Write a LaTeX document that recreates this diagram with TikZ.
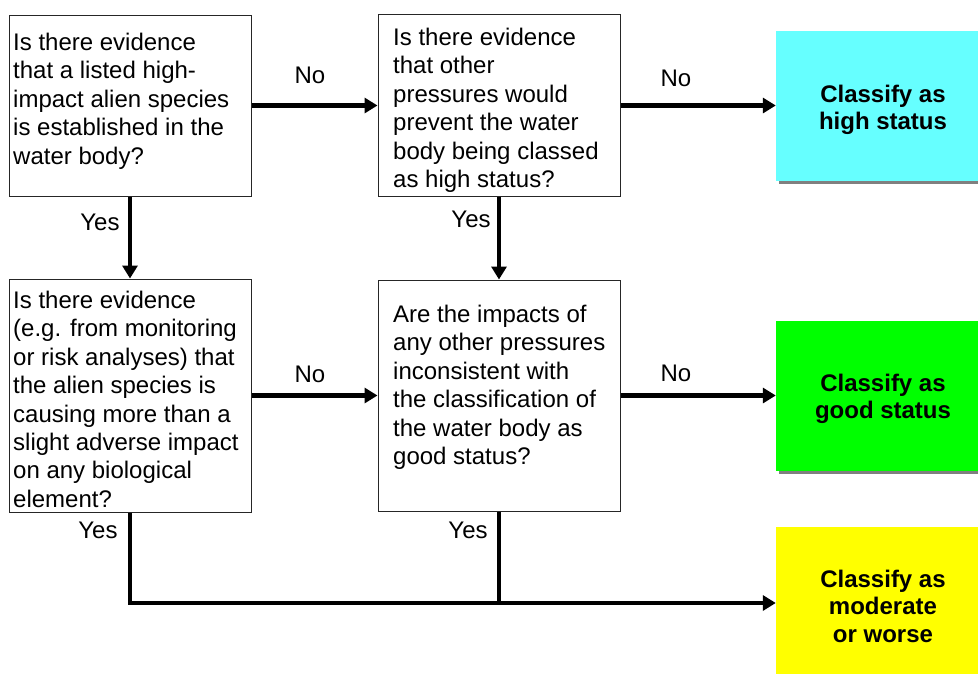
\documentclass[tikz,border=0pt]{standalone}
\usepackage{fontspec}
\setmainfont{Liberation Sans}
\usetikzlibrary{arrows.meta,shadows}
\begin{document}
\begin{tikzpicture}[x=1pt,y=-1pt,
  qbox/.style={draw=black!85,line width=1pt,rectangle,minimum width=242pt,inner sep=0pt},
  qtext/.style={anchor=north west,inner sep=0pt,align=left,font=\fontsize{24}{28.4}\selectfont},
  cbox/.style={rectangle,minimum width=214pt,minimum height=150pt,inner sep=0pt},
  ctext/.style={inner sep=0pt,align=center,font=\fontsize{24}{27.5}\selectfont\bfseries},
  shad/.style={drop shadow={shadow xshift=3pt,shadow yshift=-3pt,fill=black!50,opacity=1}},
  lbl/.style={inner sep=0pt,font=\fontsize{24}{28}\selectfont},
  arr/.style={line width=4.5pt,-{Triangle[length=13pt,width=15pt]}},
  ln/.style={line width=4.5pt}]
\clip (0,0) rectangle (978,673);
\fill[white] (0,0) rectangle (978,673);
% question boxes
\node[qbox,minimum height=181pt] (b1) at (130,105.5) {};
\node[qbox,minimum height=182pt] (b2) at (499,105.5) {};
\node[qbox,minimum height=233pt] (b3) at (130,395.5) {};
\node[qbox,minimum height=231pt] (b4) at (499,395.5) {};
\node[qtext] (t1) at (13,33) {Is there evidence\\that a listed high-\\impact alien species\\is established in the\\water body?};
\node[qtext] (t2) at (393,28) {Is there evidence\\that other\\pressures would\\prevent the water\\body being classed\\as high status?};
\node[qtext] (t3) at (13,291) {Is there evidence\\(e.g. from monitoring\\or risk analyses) that\\the alien species is\\causing more than a\\slight adverse impact\\on any biological\\element?};
\node[qtext] (t4) at (393,305) {Are the impacts of\\any other pressures\\inconsistent with\\the classification of\\the water body as\\good status?};
% outcome boxes
\node[cbox,shad,fill={rgb,255:red,102;green,255;blue,255}] (c1) at (883,106) {};
\node[cbox,shad,fill={rgb,255:red,0;green,255;blue,0}] (c2) at (883,396) {};
\node[cbox,fill={rgb,255:red,255;green,255;blue,0},minimum height=152pt] (c3) at (883,603) {};
\node[ctext] (ct1) at (883,110) {Classify as\\high status};
\node[ctext] (ct2) at (883,399) {Classify as\\good status};
\node[ctext] (ct3) at (883,606) {Classify as\\moderate\\or worse};
% connectors
\draw[arr] (b1.east) -- (b1.east -| b2.west);
\draw[arr] (b2.east) -- (b2.east -| c1.west);
\draw[arr] (b1.south) -- (b3.north);
\draw[arr] (b2.south) -- (b4.north);
\draw[arr] (b3.east) -- (b3.east -| b4.west);
\draw[arr] (b4.east) -- (b4.east -| c2.west);
\draw[arr] (b3.south) |- (c3.west);
\draw[ln] (b4.south) -- (b4.south |- c3.west);
% labels
\node[lbl] (l1) at (310,75.5) {No};
\node[lbl] (l2) at (676,78) {No};
\node[lbl] (l3) at (100,222) {Yes};
\node[lbl] (l4) at (471,219) {Yes};
\node[lbl] (l5) at (310,374) {No};
\node[lbl] (l6) at (676,373) {No};
\node[lbl] (l7) at (98,530) {Yes};
\node[lbl] (l8) at (468,530) {Yes};
\end{tikzpicture}
\end{document}
